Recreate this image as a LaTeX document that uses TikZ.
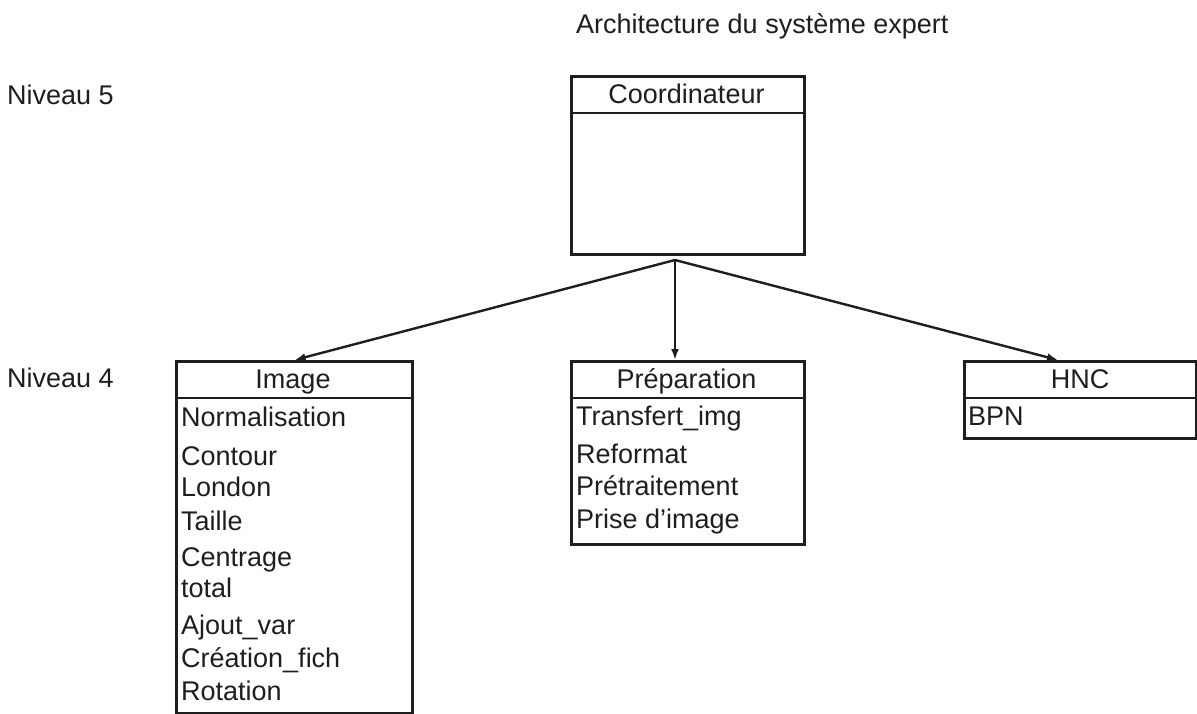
\documentclass[tikz,border=0pt]{standalone}
\usepackage{fontspec}
\setmainfont{Liberation Sans}
\usetikzlibrary{arrows.meta,calc}
\definecolor{ink}{HTML}{1E1E1E}
\begin{document}
\begin{tikzpicture}[x=1pt,y=-1pt,
  every node/.style={font=\fontsize{27}{31}\selectfont, text=ink, inner sep=0pt},
  box/.style={draw=ink, line width=3.2pt, inner sep=0pt, anchor=north west},
  sep/.style={draw=ink, line width=2.8pt},
  link/.style={draw=ink, line width=2.4pt, -{Latex[length=11pt,width=8pt]}},
  item/.style={anchor=base west},
  head/.style={anchor=base}]
\useasboundingbox (0,0) rectangle (1197,713);

% title and level labels
\node[item] (title) at (576,33) {Architecture du système expert};
\node[item] (n5) at (7,104) {Niveau 5};
\node[item] (n4) at (7,387) {Niveau 4};

% level 5: coordinator
\node[box, minimum width=233pt, minimum height=178pt] (coord) at (570,75) {};
\draw[sep] ($(coord.north west)+(0,38)$) -- ($(coord.north east)+(0,38)$);
\node[head] (coordT) at (686.5,103) {Coordinateur};

% level 4: Image
\node[box, minimum width=236pt, minimum height=352pt] (img) at (175,360) {};
\draw[sep] ($(img.north west)+(0,38)$) -- ($(img.north east)+(0,38)$);
\node[head] (imgT) at (293,388) {Image};
\node[item] (i1) at (181,426) {Normalisation};
\node[item] (i2) at (181,465) {Contour};
\node[item] (i3) at (181,496) {London};
\node[item] (i4) at (181,530) {Taille};
\node[item] (i5) at (181,566) {Centrage};
\node[item] (i6) at (181,597) {total};
\node[item] (i7) at (181,634) {Ajout\_var};
\node[item] (i8) at (181,667) {Création\_fich};
\node[item] (i9) at (181,700) {Rotation};

% level 4: Préparation
\node[box, minimum width=233pt, minimum height=183pt] (prep) at (570,360) {};
\draw[sep] ($(prep.north west)+(0,38)$) -- ($(prep.north east)+(0,38)$);
\node[head] (prepT) at (686.5,388) {Préparation};
\node[item] (p1) at (576,425) {Transfert\_img};
\node[item] (p2) at (576,463) {Reformat};
\node[item] (p3) at (576,495) {Prétraitement};
\node[item] (p4) at (576,528) {Prise d'image};

% level 4: HNC
\node[box, minimum width=232pt, minimum height=77pt] (hnc) at (963,360) {};
\draw[sep] ($(hnc.north west)+(0,38)$) -- ($(hnc.north east)+(0,38)$);
\node[head] (hncT) at (1080,388) {HNC};
\node[item] (h1) at (968,425) {BPN};

% links from the coordinator
\coordinate (fork) at (675,260);
\draw[link] (fork) -- (img.north);
\draw[link] (fork) -- (fork |- prep.north);
\draw[link] (fork) -- ($(hnc.north west)+(95,0)$);
\end{tikzpicture}
\end{document}
